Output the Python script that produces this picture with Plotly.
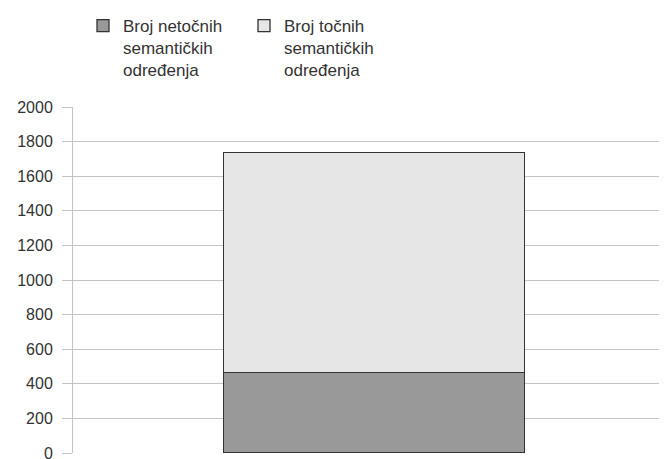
import plotly.graph_objects as go

categories = [""]
netocnih = [466]
tocnih = [1271]
series_names = ["Broj netočnih<br>semantičkih<br>određenja", "Broj točnih<br>semantičkih<br>određenja"]
y_ticks = [0, 200, 400, 600, 800, 1000, 1200, 1400, 1600, 1800, 2000]

W, H = 667, 459
fig = go.Figure()
fig.add_trace(go.Bar(x=categories, y=netocnih, name=series_names[0], width=0.5, legend="legend",
                     marker=dict(color="#999999", line=dict(color="#333333", width=1.3))))
fig.add_trace(go.Bar(x=categories, y=tocnih, name=series_names[1], width=0.5, legend="legend2",
                     marker=dict(color="#e6e6e6", line=dict(color="#333333", width=1.3))))

leg_common = dict(orientation="v", yanchor="top", xanchor="left", xref="container", yref="container",
                  y=1.0, valign="top", font=dict(family="Liberation Sans", size=17, color="#333333"),
                  bgcolor="rgba(0,0,0,0)")

fig.update_layout(
    width=W, height=H, barmode="stack",
    margin=dict(l=65, r=0, t=99, b=14, autoexpand=False),
    paper_bgcolor="white", plot_bgcolor="white",
    font=dict(family="Liberation Sans", size=16, color="#333333"),
    showlegend=True,
    legend=dict(x=75 / W, **leg_common),
    legend2=dict(x=236 / W, **leg_common),
    xaxis=dict(range=[-0.5, 0.5], showgrid=False, showticklabels=False, zeroline=False,
               showline=False, ticks="", automargin=False),
    yaxis=dict(range=[0, 2000], tickvals=y_ticks, showgrid=True, gridcolor="#c4c4c4", gridwidth=1,
               zeroline=False, showline=True, linecolor="#c4c4c4", linewidth=1, automargin=False,
               ticks="outside", ticklen=10, tickcolor="#c4c4c4", ticklabelstandoff=6,
               tickfont=dict(family="Liberation Sans", size=16, color="#333333")),
)
fig.write_html("out.html")
